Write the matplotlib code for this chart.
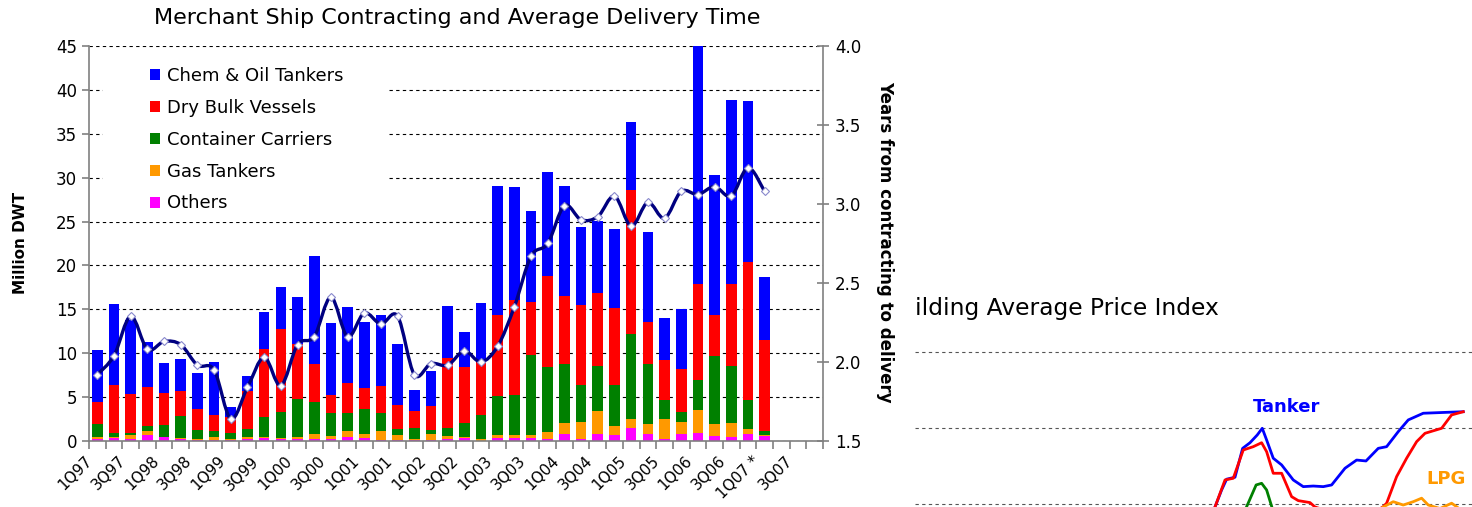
import matplotlib.pyplot as plt
import numpy as np
from matplotlib.path import Path
from matplotlib.patches import PathPatch, Rectangle
from matplotlib.transforms import ScaledTranslation

# Quarterly contracting (million DWT) by ship type, 1Q97 .. 1Q07
tankers = [5.9, 9.2, 8.4, 5.2, 3.4, 3.6, 4.1, 6.0, 1.2, 1.7, 4.2, 4.7, 5.3, 12.3,
           8.3, 8.7, 7.6, 8.1, 7.0, 2.4, 4.0, 6.0, 4.0, 6.7, 14.7, 12.8, 10.4, 11.9,
           12.6, 8.9, 8.2, 9.0, 7.7, 10.2, 4.8, 6.8, 27.1, 15.9, 20.9, 18.3, 7.2]
dry_bulk = [2.6, 5.5, 4.5, 4.4, 3.7, 2.9, 2.4, 1.9, 1.8, 4.3, 7.8, 9.5, 6.3, 4.3,
            2.0, 3.4, 2.4, 3.1, 2.7, 1.9, 2.75, 7.9, 6.4, 6.1, 9.3, 10.9, 6.0, 10.4,
            7.7, 9.1, 8.4, 8.8, 16.4, 4.8, 4.5, 4.9, 10.95, 4.7, 9.4, 15.7, 10.4]
container = [1.5, 0.4, 0.2, 0.6, 1.3, 2.5, 1.1, 0.7, 0.7, 1.0, 2.3, 3.0, 4.3, 3.7,
             2.6, 2.1, 2.8, 2.1, 0.7, 1.3, 0.45, 0.9, 1.5, 2.7, 4.45, 4.5, 9.1, 7.4,
             6.7, 4.2, 5.1, 4.7, 9.7, 6.9, 2.2, 1.1, 3.45, 7.8, 6.5, 3.3, 0.4]
gas = [0.2, 0.2, 0.5, 0.4, 0.1, 0.1, 0.1, 0.3, 0.1, 0.2, 0.1, 0.1, 0.3, 0.6,
       0.4, 0.7, 0.5, 1.0, 0.6, 0.1, 0.7, 0.4, 0.2, 0.2, 0.35, 0.4, 0.4, 0.8,
       1.3, 2.0, 2.6, 1.0, 1.0, 1.1, 2.3, 1.4, 2.55, 1.3, 1.6, 0.6, 0.1]
others = [0.2, 0.3, 0.2, 0.7, 0.4, 0.2, 0.1, 0.1, 0.1, 0.2, 0.3, 0.2, 0.2, 0.2,
          0.2, 0.4, 0.3, 0.1, 0.1, 0.1, 0.1, 0.2, 0.3, 0.05, 0.3, 0.3, 0.3, 0.2,
          0.8, 0.2, 0.8, 0.7, 1.5, 0.8, 0.2, 0.8, 0.95, 0.6, 0.4, 0.8, 0.6]
# average years from contracting to delivery
delivery = [1.92, 2.04, 2.29, 2.08, 2.13, 2.11, 1.98, 1.95, 1.64, 1.84, 2.03,
            1.85, 2.11, 2.16, 2.41, 2.16, 2.31, 2.24, 2.29, 1.92, 1.99, 1.98,
            2.07, 2.00, 2.10, 2.35, 2.67, 2.75, 2.99, 2.90, 2.92, 3.05, 2.86,
            3.01, 2.91, 3.08, 3.06, 3.11, 3.05, 3.23, 3.08]
n_quarters = 44  # 1Q97 .. 4Q07
tick_labels = ["1Q97", "3Q97", "1Q98", "3Q98", "1Q99", "3Q99", "1Q00", "3Q00",
               "1Q01", "3Q01", "1Q02", "3Q02", "1Q03", "3Q03", "1Q04", "3Q04",
               "1Q05", "3Q05", "1Q06", "3Q06", "1Q07 *", "3Q07"]

# newbuilding price index (partial view)
tanker_yr = [1987.64, 1988.17, 1988.57, 1989.24, 1989.85, 1990.44, 1991.02, 1991.42,
             1991.77, 1992.30, 1992.97, 1993.90, 1994.70, 1995.50, 1996.30, 1996.97,
             1998.04, 1998.97, 1999.72, 2000.70, 2001.37, 2002.30, 2003.10, 2004.30,
             2006.17, 2007.50]
tanker_idx = [98.0, 109.2, 116.3, 117.6, 136.6, 140.3, 145.4, 149.8, 142.1, 130.1,
              125.7, 115.8, 111.4, 111.8, 111.4, 112.5, 123.5, 128.9, 128.3, 136.6,
              137.7, 147.6, 155.3, 159.7, 160.3, 160.7]
bulk_yr = [1987.64, 1988.44, 1989.10, 1989.90, 1990.70, 1991.37, 1991.77, 1992.30,
           1992.97, 1993.77, 1994.30, 1995.24, 1995.64, 1997.5, 2000.0, 2001.07,
           2001.37, 2002.17, 2002.97, 2003.77, 2004.44, 2005.77, 2006.57, 2007.50]
bulk_idx = [98.0, 115.8, 116.9, 135.5, 137.7, 140.3, 134.4, 120.2, 120.2, 104.8,
            102.2, 100.9, 98.0, 93.0, 93.0, 98.0, 100.5, 118.0, 130.1, 141.0, 146.5,
            149.8, 158.6, 160.7]
box_yr = [1990.0, 1990.93, 1991.37, 1991.77, 1992.3]
box_idx = [95.0, 112.5, 113.6, 109.2, 95.0]
lpg_yr = [2001.10, 2001.90, 2002.70, 2003.50, 2004.17, 2004.70, 2005.64, 2006.57, 2007.0]
lpg_idx = [98.0, 101.5, 99.3, 101.5, 103.8, 99.3, 97.0, 100.5, 98.0]

W, H = 1472, 507
fig = plt.figure(figsize=(W / 100, H / 100), dpi=100)

def px_box(x0, y0, x1, y1):
    return [x0 / W, 1 - y1 / H, (x1 - x0) / W, (y1 - y0) / H]

ax = fig.add_axes(px_box(89, 46, 823, 441))
x = np.arange(len(tankers))
series = [(others, "#FF00FF", "Others"),
          (gas, "#FF9900", "Gas Tankers"),
          (container, "#008000", "Container Carriers"),
          (dry_bulk, "#FF0000", "Dry Bulk Vessels"),
          (tankers, "#0000FF", "Chem & Oil Tankers")]
bottom = np.zeros(len(x))
handles = []
for vals, col, lab in series:
    b = ax.bar(x, vals, 0.64, bottom=bottom, color=col, label=lab, zorder=2)
    handles.append(b)
    bottom += np.array(vals)

ax.set_xlim(-0.5, n_quarters - 0.5)
ax.set_ylim(0, 45)
ax.set_yticks(np.arange(0, 46, 5))
ax.set_xticks(np.arange(0, n_quarters, 2))
ax.set_xticklabels(tick_labels, rotation=45, ha="right", rotation_mode="anchor",
                   fontsize=11)
ax.set_xticks(np.arange(-0.5, n_quarters, 1), minor=True)
ax.tick_params(axis="x", which="major", length=0, pad=9)
ax.tick_params(axis="x", which="minor", length=6, color="#808080", width=1.2)
ax.tick_params(axis="y", length=5, color="#808080", width=1.2, labelsize=12)
# nudge the slanted quarter labels left (after tick_params, which resets them)
shift = ScaledTranslation(-0.13, 0, fig.dpi_scale_trans)
for lbl in ax.get_xticklabels():
    lbl.set_transform(lbl.get_transform() + shift)
ax.yaxis.grid(True, color="black", linestyle=(0, (3, 3)), linewidth=0.8)
ax.set_axisbelow(True)
for s in ["left", "bottom"]:
    ax.spines[s].set_color("#808080")
    ax.spines[s].set_linewidth(1.2)
for s in ["top", "right"]:
    ax.spines[s].set_visible(False)

# white panel behind the legend hides the gridlines there
ax.add_patch(Rectangle((0.019, 0.555), 0.39, 0.43, transform=ax.transAxes,
                       facecolor="white", edgecolor="none", zorder=1.5))
ax.legend(handles[::-1], [h.get_label() for h in handles[::-1]],
          loc="upper left", bbox_to_anchor=(0.071, 0.97), frameon=False,
          fontsize=13, handlelength=0.55, handleheight=0.55, handletextpad=0.4,
          labelspacing=0.77, borderpad=0)

ax2 = ax.twinx()
ax2.set_ylim(1.5, 4.0)
ax2.set_yticks(np.arange(1.5, 4.01, 0.5))
ax2.set_yticklabels(["%.1f" % v for v in np.arange(1.5, 4.01, 0.5)])
ax2.tick_params(axis="y", direction="inout", length=9, color="#808080", width=1.2,
                labelsize=12, pad=4)
for s in ["top", "left", "bottom"]:
    ax2.spines[s].set_visible(False)
ax2.spines["right"].set_color("#808080")
ax2.spines["right"].set_linewidth(1.2)

# smoothed delivery-time line (Catmull-Rom as cubic Bezier segments)
pts = np.column_stack([x, delivery]).astype(float)
verts = [pts[0]]
codes = [Path.MOVETO]
for i in range(len(pts) - 1):
    p0 = pts[max(i - 1, 0)]
    p1, p2 = pts[i], pts[i + 1]
    p3 = pts[min(i + 2, len(pts) - 1)]
    verts += [p1 + (p2 - p0) / 6, p2 - (p3 - p1) / 6, p2]
    codes += [Path.CURVE4] * 3
ax2.add_patch(PathPatch(Path(verts, codes), facecolor="none", edgecolor="#000080",
                        linewidth=2.4, zorder=3))
ax2.plot(x, delivery, linestyle="none", marker="D", markersize=4,
         markerfacecolor="white", markeredgecolor="#8888cc", markeredgewidth=0.8,
         zorder=4)

fig.text(457 / W, 1 - 18 / H, "Merchant Ship Contracting and Average Delivery Time",
         ha="center", va="center", fontsize=16)
fig.text(21 / W, 1 - 243 / H, "Million DWT", rotation=90, ha="center", va="center",
         fontsize=11, fontweight="bold")
fig.text(885 / W, 1 - 242 / H, "Years from contracting to delivery", rotation=-90,
         ha="center", va="center", fontsize=12, fontweight="bold")

# second chart, cut by the right edge
ax3 = fig.add_axes(px_box(915, 340, W, H))
ax3.set_xlim(1963.64, 2008.2)
ax3.set_ylim(98.0, 207.9)
ax3.set_yticks([100, 150, 200])
ax3.yaxis.grid(True, color="#555555", linestyle=(0, (3, 3)), linewidth=0.8)
ax3.tick_params(left=False, bottom=False, labelleft=False, labelbottom=False)
for s in ax3.spines.values():
    s.set_visible(False)
ax3.plot(tanker_yr, tanker_idx, color="#0000FF", linewidth=2)
ax3.plot(bulk_yr, bulk_idx, color="#FF0000", linewidth=2)
ax3.plot(box_yr, box_idx, color="#008000", linewidth=2)
ax3.plot(lpg_yr, lpg_idx, color="#FF9900", linewidth=2)
ax3.text(1993.36, 163.6, "Tanker", color="#0000FF", fontweight="bold", fontsize=13,
         ha="center", va="center")
ax3.text(2006.12, 116.3, "LPG", color="#FF9900", fontweight="bold", fontsize=13,
         ha="center", va="center")
fig.text(915 / W, 1 - 308 / H, "ilding Average Price Index", ha="left", va="center",
         fontsize=16.8)

fig.savefig("out.png", dpi=100)
